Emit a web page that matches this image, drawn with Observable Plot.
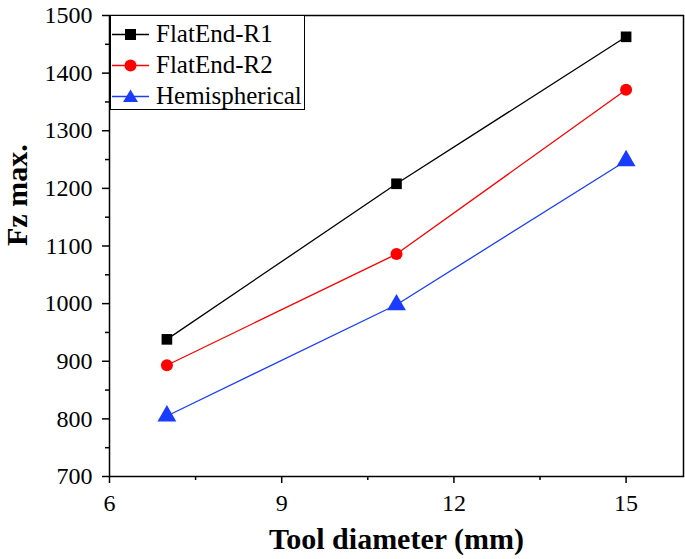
<!DOCTYPE html>
<html>
<head>
<meta charset="utf-8">
<script src="https://cdn.jsdelivr.net/npm/d3@7"></script>
<script src="https://cdn.jsdelivr.net/npm/@observablehq/plot@0.6"></script>
<style>
  html, body { margin: 0; padding: 0; background: #fff; }
  #wrap { position: relative; width: 685px; height: 559px; font-family: "Liberation Serif", "Times New Roman", serif; }
  #wrap svg text { font-family: "Liberation Serif", "Times New Roman", serif !important; }
  #wrap svg g[aria-label="x-axis tick label"] text,
  #wrap svg g[aria-label="y-axis tick label"] text { font-size: 24px !important; font-variant: normal !important; }
  #legend { position: absolute; left: 110px; top: 15px; width: 195px; height: 95px; border: 1.5px solid #000; box-sizing: border-box; background: #fff; }
  .row { position: absolute; left: 0; height: 30px; display: flex; align-items: center; font-size: 25px; line-height: 30px; white-space: nowrap; }
  .row svg { margin-left: 1px; }
  .row span { margin-left: 6px; }
</style>
</head>
<body>
<div id="wrap"></div>
<script>
const diameters = [7, 11, 15];
const seriesNames = ["FlatEnd-R1", "FlatEnd-R2", "Hemispherical"];
const r1Values = [938, 1208, 1463];
const r2Values = [893, 1086, 1371];
const hemiValues = [805, 998, 1248];
const colors = ["#000000", "#ff0000", "#1a3cff"];
const symbols = ["square", "circle", "triangle"];
const xTicks = [6, 9, 12, 15];
const xMinorTicks = [7.5, 10.5, 13.5];
const yTicks = [700, 800, 900, 1000, 1100, 1200, 1300, 1400, 1500];
const yMinorTicks = [750, 850, 950, 1050, 1150, 1250, 1350, 1450];

const allValues = [r1Values, r2Values, hemiValues];
const data = [];
seriesNames.forEach((s, i) => diameters.forEach((d, j) => data.push({series: s, x: d, y: allValues[i][j]})));

const font = '"Liberation Serif", "Times New Roman", serif';
const chart = Plot.plot({
  width: 685,
  height: 559,
  marginLeft: 109,
  marginTop: 15,
  marginRight: 2,
  marginBottom: 83,
  style: {fontFamily: font, fontSize: "24px", color: "#000", background: "#fff"},
  x: {domain: [6, 16]},
  y: {domain: [700, 1500]},
  color: {domain: seriesNames, range: colors},
  symbol: {domain: seriesNames, range: symbols},
  marks: [
    Plot.axisX({ticks: xTicks, tickSize: 7, tickPadding: 10, tickFormat: d => String(d), fontSize: 24, label: null, strokeWidth: 1.5}),
    Plot.axisX({ticks: xMinorTicks, tickSize: 4, text: null, label: null, strokeWidth: 1.5}),
    Plot.axisY({ticks: yTicks, tickSize: 7, tickPadding: 10, tickFormat: d => String(d), fontSize: 24, label: null, strokeWidth: 1.5}),
    Plot.axisY({ticks: yMinorTicks, tickSize: 4, text: null, label: null, strokeWidth: 1.5}),
    Plot.frame({stroke: "#000", strokeWidth: 1.5}),
    Plot.line(data, {x: "x", y: "y", z: "series", stroke: "series", strokeWidth: 1.3}),
    Plot.dot(data.filter(d => d.series !== "Hemispherical"), {x: "x", y: "y", fill: "series", symbol: "series", r: 6}),
    Plot.dot(data.filter(d => d.series === "Hemispherical"), {x: "x", y: "y", fill: "series", symbol: "series", r: 7}),
    Plot.text(["Tool diameter (mm)"], {frameAnchor: "bottom", dy: 72, fontSize: 30, fontWeight: "bold", text: d => d}),
    Plot.text(["Fz max."], {frameAnchor: "left", dx: -92, rotate: -90, fontSize: 30, fontWeight: "bold", text: d => d})
  ]
});
const wrap = document.getElementById("wrap");
wrap.appendChild(chart);

const legend = document.createElement("div");
legend.id = "legend";
const shapes = {
  square: '<rect x="13" y="5" width="11" height="11" fill="C"/>',
  circle: '<circle cx="18.5" cy="10.5" r="6" fill="C"/>',
  triangle: '<path d="M18.5 3.5 L26 16 L11 16 Z" fill="C"/>'
};
seriesNames.forEach((s, i) => {
  const row = document.createElement("div");
  row.className = "row";
  row.style.top = (3 + i * 31) + "px";
  row.innerHTML = `<svg width="38" height="21"><line x1="0" x2="37" y1="10.5" y2="10.5" stroke="${colors[i]}" stroke-width="1.3"/>${shapes[symbols[i]].replace("C", colors[i])}</svg><span>${s}</span>`;
  legend.appendChild(row);
});
wrap.appendChild(legend);
</script>
</body>
</html>
